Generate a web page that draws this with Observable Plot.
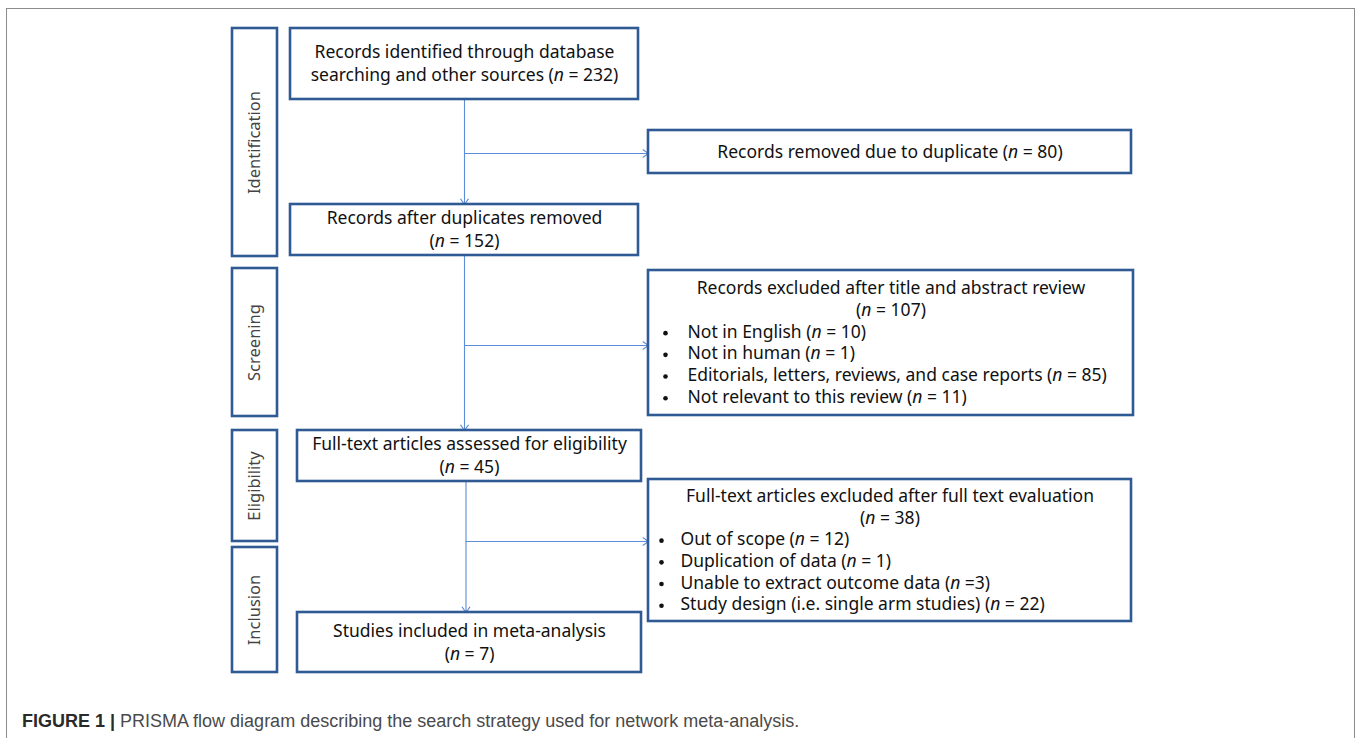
<!DOCTYPE html>
<html><head><meta charset="utf-8">
<script src="https://cdn.jsdelivr.net/npm/d3@7"></script>
<script src="https://cdn.jsdelivr.net/npm/@observablehq/plot@0.6"></script>
<style>
html,body{margin:0;padding:0;background:#fff;overflow:hidden;}
#frame{position:absolute;left:6px;top:8px;width:1349px;height:800px;border:1px solid #8c8c8c;box-sizing:border-box;}
#chart{position:absolute;left:0;top:0;}
#caption{position:absolute;left:22px;top:711px;font-family:"Liberation Sans",Arial,sans-serif;font-size:18px;color:#4a4a4a;white-space:nowrap;}
#caption b{color:#2a2a2a;}
</style></head><body>
<div id="frame"></div>
<div id="chart"></div>
<div id="caption"><b>FIGURE 1 |</b> PRISMA flow diagram describing the search strategy used for network meta-analysis.</div>
<script>
// ---------------- DATA ----------------
const stages = ["Identification", "Screening", "Eligibility", "Inclusion"];
const mainStepLines = [
  ["Records identified through database", "searching and other sources"],
  ["Records after duplicates removed"],
  ["Full-text articles assessed for eligibility"],
  ["Studies included in meta-analysis"]
];
const mainCounts = [232, 152, 45, 7];
const exclusionTitles = [
  "Records removed due to duplicate",
  "Records excluded after title and abstract review",
  "Full-text articles excluded after full text evaluation"
];
const exclusionCounts = [80, 107, 38];
const screeningReasons = ["Not in English", "Not in human", "Editorials, letters, reviews, and case reports", "Not relevant to this review"];
const screeningCounts = [10, 1, 85, 11];
const eligibilityReasons = ["Out of scope", "Duplication of data", "Unable to extract outcome data", "Study design (i.e. single arm studies)"];
const eligibilityCounts = [12, 1, 3, 22];
const eligibilitySeps = [" = ", " = ", " =", " = "];

// ---------------- LAYOUT ----------------
const W = 1357, H = 690;
const stageCol = {x1: 232, x2: 277};
const stageRows = [[28, 256], [268, 416], [430, 541], [547, 672]];
const mainBoxes = [[290, 638, 28, 99], [290, 638, 204, 255], [297, 641, 430, 481], [297, 641, 612, 672]];
const sideBoxes = [[648, 1131, 130, 173], [648, 1133, 270, 415], [648, 1131, 479, 621]];
const bulletOffsets = [null, [17, 39], [13, 32]];
const trunkX = [464, 464, 465.5];
const branchY = [153, 345, 541];
const mainStep = 23, sideStep = 21.7;

const fmt = (c, sep = " = ") => `(n${sep}${c})`;

// Build rows
const stageData = stages.map((s, i) => ({label: s, x1: stageCol.x1, x2: stageCol.x2, y1: stageRows[i][0], y2: stageRows[i][1]}));
const boxData = [...mainBoxes, ...sideBoxes].map(([x1, x2, y1, y2]) => ({x1, x2, y1, y2}));

const centerLines = [];
mainStepLines.forEach((lines, i) => {
  const ls = lines.length === 2 ? [lines[0], lines[1] + " " + fmt(mainCounts[i])] : [lines[0], fmt(mainCounts[i])];
  const [x1, x2, y1, y2] = mainBoxes[i];
  const cy = (y1 + y2) / 2, cx = (x1 + x2) / 2;
  ls.forEach((t, j) => centerLines.push({text: t, x: cx, y: cy + (j - (ls.length - 1) / 2) * mainStep}));
});

const leftLines = [];
const reasonSets = [null, screeningReasons.map((r, k) => r + " " + fmt(screeningCounts[k])),
  eligibilityReasons.map((r, k) => r + " " + fmt(eligibilityCounts[k], eligibilitySeps[k]))];
exclusionTitles.forEach((t, i) => {
  const [x1, x2, y1, y2] = sideBoxes[i];
  const cx = (x1 + x2) / 2, cy = (y1 + y2) / 2;
  if (i === 0) {
    centerLines.push({text: t + " " + fmt(exclusionCounts[i]), x: cx, y: cy});
    return;
  }
  const reasons = reasonSets[i];
  const n = 2 + reasons.length;
  const yAt = j => cy + (j - (n - 1) / 2) * sideStep;
  centerLines.push({text: t, x: cx, y: yAt(0)});
  centerLines.push({text: fmt(exclusionCounts[i]), x: cx, y: yAt(1)});
  reasons.forEach((r, k) => {
    leftLines.push({text: r, bx: x1 + bulletOffsets[i][0], x: x1 + bulletOffsets[i][1], y: yAt(k + 2)});
  });
});

const arrows = [];
for (let i = 0; i < 3; i++) {
  arrows.push({x1: trunkX[i], y1: mainBoxes[i][3], x2: trunkX[i], y2: mainBoxes[i + 1][2]});
  arrows.push({x1: trunkX[i], y1: branchY[i], x2: sideBoxes[i][0], y2: branchY[i]});
}

const boxStroke = "#2f5a94";
const arrowColor = "#5b8ed6";
const font = "'Noto Sans', sans-serif";
const fs = 17.5;

const chart = Plot.plot({
  width: W, height: H, margin: 0,
  x: {domain: [0, W], range: [0, W], axis: null},
  y: {domain: [0, H], range: [0, H], axis: null},
  r: {type: "identity"},
  style: {background: "transparent", overflow: "visible"},
  marks: [
    Plot.arrow(arrows, {x1: "x1", y1: "y1", x2: "x2", y2: "y2", stroke: arrowColor, strokeWidth: 1.1, headLength: 9, headAngle: 70}),
    Plot.rect(stageData, {x1: "x1", x2: "x2", y1: "y1", y2: "y2", fill: "white", stroke: boxStroke, strokeWidth: 2.6}),
    Plot.rect(boxData, {x1: "x1", x2: "x2", y1: "y1", y2: "y2", fill: "none", stroke: boxStroke, strokeWidth: 2.6}),
    Plot.text(stageData, {x: d => (d.x1 + d.x2) / 2, y: d => (d.y1 + d.y2) / 2, text: "label", rotate: -90, fontSize: 16.5, fontFamily: font, fill: "#444", ariaLabel: "stage"}),
    Plot.text(centerLines, {x: "x", y: "y", text: "text", fontSize: fs, fontFamily: font, fill: "#111", textAnchor: "middle"}),
    Plot.dot(leftLines, {x: "bx", y: d => d.y + 1, r: 2.3, fill: "#111", stroke: null}),
    Plot.text(leftLines, {x: "x", y: "y", text: "text", fontSize: fs, fontFamily: font, fill: "#111", textAnchor: "start"})
  ]
});
document.getElementById("chart").appendChild(chart);

// letter spacing for stage labels
d3.select(chart).selectAll('g[aria-label="stage"] text').attr("letter-spacing", "1.7px");

// italicize the "n" in "(n = ...)"
function italicize(el) {
  const s = el.textContent;
  if (!s.includes("(n")) return;
  while (el.firstChild) el.removeChild(el.firstChild);
  const parts = s.split("(n");
  parts.forEach((p, i) => {
    if (i > 0) {
      el.appendChild(document.createTextNode("("));
      const t = document.createElementNS("http://www.w3.org/2000/svg", "tspan");
      t.setAttribute("font-style", "italic");
      t.textContent = "n";
      el.appendChild(t);
    }
    el.appendChild(document.createTextNode(p));
  });
}
d3.select(chart).selectAll("text").each(function() {
  const spans = this.querySelectorAll("tspan");
  if (spans.length) spans.forEach(italicize); else italicize(this);
});
</script>
</body></html>
